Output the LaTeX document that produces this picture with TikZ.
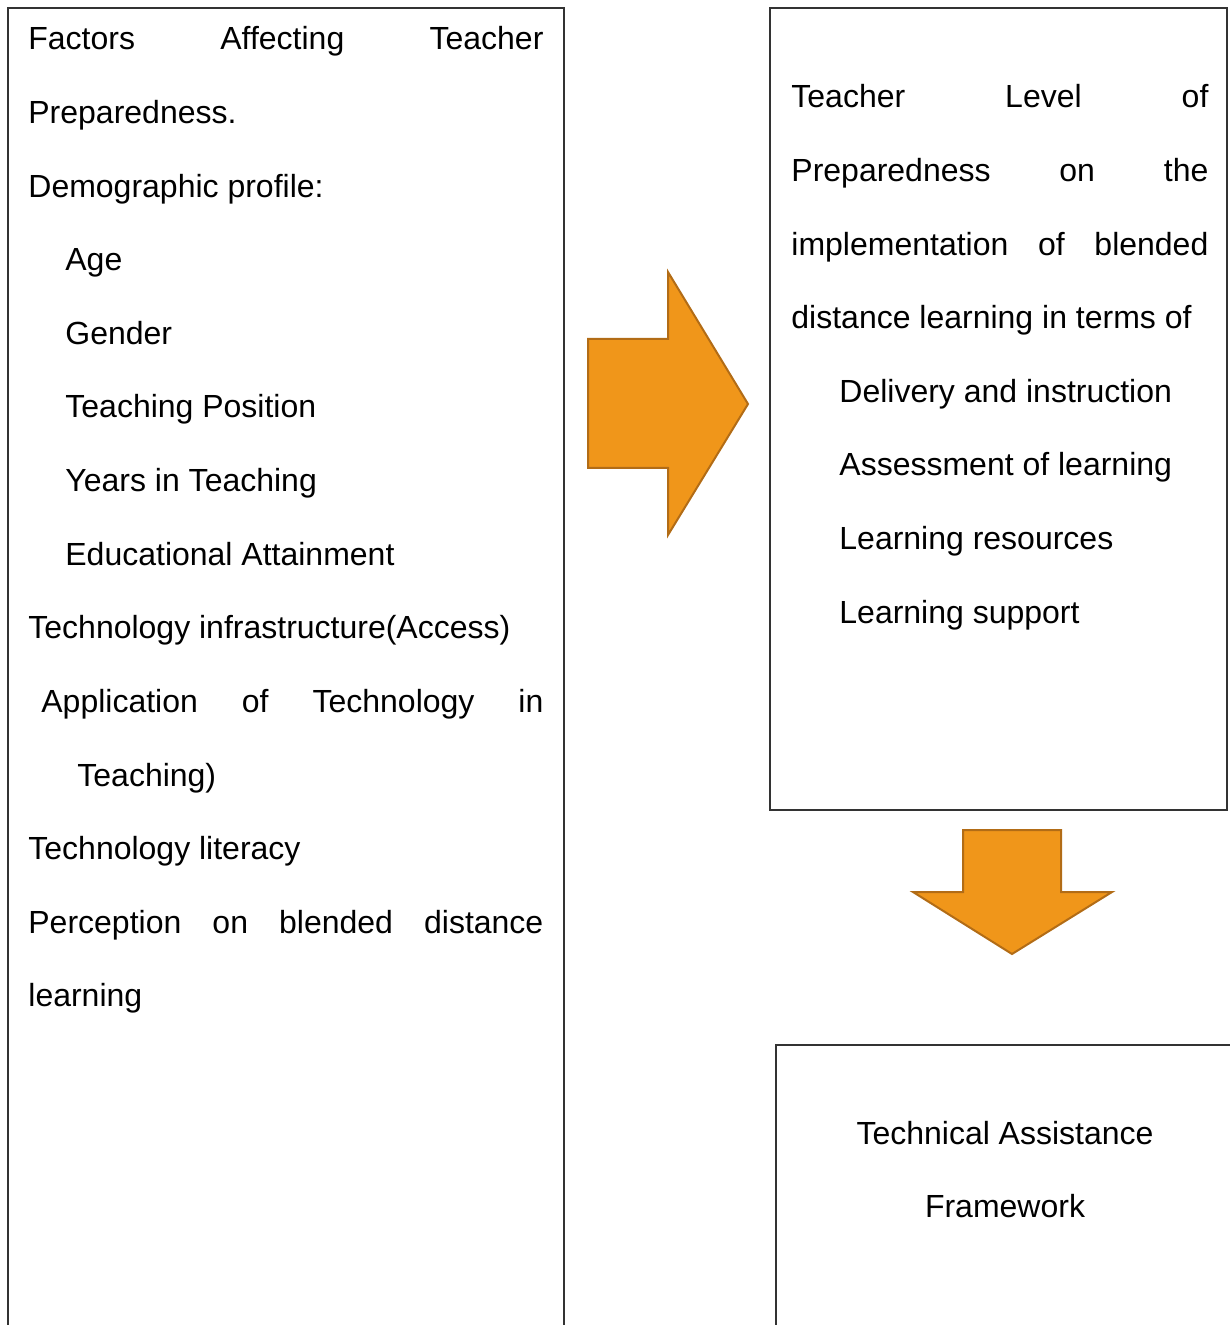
\documentclass[tikz,border=0pt]{standalone}
\usepackage{fontspec}
\setmainfont{Liberation Sans}
\usetikzlibrary{positioning}

\definecolor{arrowfill}{RGB}{240,150,26}
\definecolor{arrowline}{RGB}{178,108,22}

\tikzset{
  txt/.style={anchor=base west, inner sep=0pt, font=\fontsize{16}{19}\selectfont},
  ctxt/.style={anchor=base, inner sep=0pt, font=\fontsize{16}{19}\selectfont},
  boxline/.style={draw=black!80, line width=0.6pt},
  bigarrow/.style={fill=arrowfill, draw=arrowline, line width=1pt, line join=miter}
}

\begin{document}
\begin{tikzpicture}[x=0.5pt,y=-0.5pt]
  \useasboundingbox (0,0) rectangle (1229,1325);

  % line spacing and text margins
  \def\gap{73.6}
  \def\lx{28}   % left box text
  \def\li{65}   % left box indent
  \def\rx{791}  % right box text
  \def\ri{839}  % right box indent

  % left box (runs off the page at the bottom)
  \draw[boxline] (8,1330) -- (8,8) -- (564,8) -- (564,1330);

  \node[txt] (f1) at (\lx,50) {\makebox[257.5pt][s]{Factors Affecting Teacher}};
  \node[txt] (f2) at (\lx,50+\gap) {Preparedness.};
  \node[txt] (f3) at (\lx,50+2*\gap) {Demographic profile:};
  \node[txt] (f4) at (\li,50+3*\gap) {Age};
  \node[txt] (f5) at (\li,50+4*\gap) {Gender};
  \node[txt] (f6) at (\li,50+5*\gap) {Teaching Position};
  \node[txt] (f7) at (\li,50+6*\gap) {Years in Teaching};
  \node[txt] (f8) at (\li,50+7*\gap) {Educational Attainment};
  \node[txt] (f9) at (\lx,50+8*\gap) {Technology infrastructure(Access)};
  \node[txt] (f10) at (41,50+9*\gap) {\makebox[251pt][s]{Application of Technology in}};
  \node[txt] (f11) at (77,50+10*\gap) {Teaching)};
  \node[txt] (f12) at (\lx,50+11*\gap) {Technology literacy};
  \node[txt] (f13) at (\lx,50+12*\gap) {\makebox[257.5pt][s]{Perception on blended distance}};
  \node[txt] (f14) at (\lx,50+13*\gap) {learning};

  % arrow to the right
  \draw[bigarrow] (588,339) -- (668,339) -- (668,272) -- (748,404)
    -- (668,535) -- (668,468) -- (588,468) -- cycle;

  % right box
  \draw[boxline] (770,8) rectangle (1227,810);

  \node[txt] (p1) at (\rx,108) {\makebox[208.5pt][s]{Teacher Level of}};
  \node[txt] (p2) at (\rx,108+\gap) {\makebox[208.5pt][s]{Preparedness on the}};
  \node[txt] (p3) at (\rx,108+2*\gap) {\makebox[208.5pt][s]{implementation of blended}};
  \node[txt] (p4) at (\rx,108+3*\gap) {distance learning in terms of};
  \node[txt] (p5) at (\ri,108+4*\gap) {Delivery and instruction};
  \node[txt] (p6) at (\ri,108+5*\gap) {Assessment of learning};
  \node[txt] (p7) at (\ri,108+6*\gap) {Learning resources};
  \node[txt] (p8) at (\ri,108+7*\gap) {Learning support};

  % arrow down
  \draw[bigarrow] (963,830) -- (1061,830) -- (1061,892) -- (1112,892)
    -- (1012,954) -- (913,892) -- (963,892) -- cycle;

  % bottom box (open to the right and below)
  \draw[boxline] (776,1330) -- (776,1045) -- (1235,1045);

  \node[ctxt] (t1) at (1005,1144) {Technical Assistance};
  \node[ctxt] (t2) at (1005,1144+\gap) {Framework};
\end{tikzpicture}
\end{document}
